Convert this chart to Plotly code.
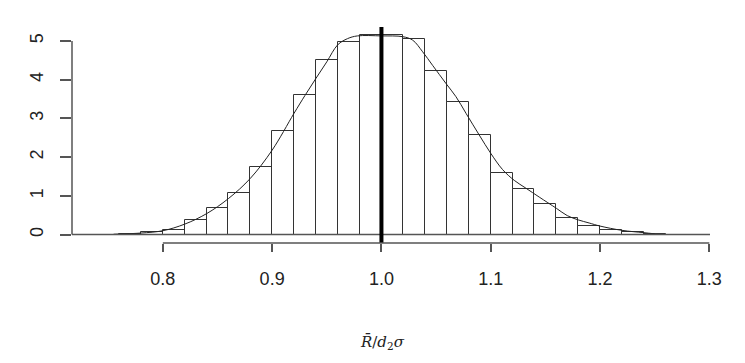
import plotly.graph_objects as go

# ---- data ----
bin_left = [0.76, 0.78, 0.80, 0.82, 0.84, 0.86, 0.88, 0.90, 0.92, 0.94, 0.96, 0.98,
            1.00, 1.02, 1.04, 1.06, 1.08, 1.10, 1.12, 1.14, 1.16, 1.18, 1.20, 1.22, 1.24]
bin_width = 0.02
density_hist = [0.02, 0.06, 0.13, 0.37, 0.69, 1.08, 1.74, 2.67, 3.60, 4.52, 4.97, 5.15,
                5.15, 5.06, 4.23, 3.43, 2.58, 1.60, 1.17, 0.80, 0.43, 0.23, 0.13, 0.07, 0.01]

curve_x = [0.755, 0.78, 0.80, 0.82, 0.84, 0.86, 0.88, 0.90, 0.92, 0.93, 0.940, 0.950,
           0.960, 0.969, 0.978, 1.000, 1.0195, 1.0286, 1.0377, 1.0468, 1.0591, 1.0682,
           1.0774, 1.0895, 1.1002, 1.1108, 1.1215, 1.1321, 1.1443, 1.16, 1.17, 1.18,
           1.19, 1.20, 1.22, 1.24, 1.25]
curve_y = [0.01, 0.04, 0.10, 0.27, 0.54, 0.93, 1.45, 2.18, 3.13, 3.59, 4.03, 4.46,
           4.90, 5.06, 5.13, 5.13, 5.11, 5.02, 4.72, 4.37, 3.90, 3.56,
           3.13, 2.57, 2.09, 1.68, 1.40, 1.20, 0.97, 0.68, 0.49, 0.38,
           0.30, 0.22, 0.11, 0.05, 0.02]

ref_value = 1.0
x_ticks = [0.8, 0.9, 1.0, 1.1, 1.2, 1.3]
x_tick_labels = ["0.8", "0.9", "1.0", "1.1", "1.2", "1.3"]
y_ticks = [0, 1, 2, 3, 4, 5]
y_tick_labels = ["0", "1", "2", "3", "4", "5"]
x_title = "<i>R\u0304</i>/<i>d</i><sub>2</sub><i>\u03c3</i>"

axis_col = "#555555"
font_main = "Liberation Sans, Arial, sans-serif"

centers = [b + bin_width / 2 for b in bin_left]

fig = go.Figure()
fig.add_trace(go.Bar(
    x=centers, y=density_hist, width=[bin_width] * len(centers),
    marker=dict(color="white", line=dict(color="#333333", width=1)),
    hoverinfo="skip", showlegend=False,
))
fig.add_trace(go.Scatter(
    x=curve_x, y=curve_y, mode="lines", line=dict(color="#222222", width=1, shape="spline"),
    hoverinfo="skip", showlegend=False,
))

# baseline y=0 across plot
fig.add_shape(type="line", xref="paper", yref="y", x0=0, x1=1, y0=0, y1=0,
              line=dict(color=axis_col, width=1.5), layer="above")
# reference vertical line
fig.add_shape(type="line", xref="x", yref="paper", x0=ref_value, x1=ref_value, y0=0, y1=1,
              line=dict(color="black", width=4), layer="above")
# x axis line (tick span)
fig.add_shape(type="line", xref="x", yref="paper", x0=min(x_ticks), x1=max(x_ticks), y0=0, y1=0,
              line=dict(color=axis_col, width=1.5), layer="above")
# y axis line (tick span)
fig.add_shape(type="line", xref="paper", yref="y", x0=0, x1=0, y0=min(y_ticks), y1=max(y_ticks),
              line=dict(color=axis_col, width=1.5), layer="above")

fig.add_annotation(text=x_title, xref="paper", yref="paper", x=0.487, y=-0.515,
                   showarrow=False, font=dict(family="DejaVu Serif, serif", size=15, color="#222"))

fig.update_layout(
    width=745, height=363,
    margin=dict(l=64, r=42.5, t=18.7, b=128.3),
    paper_bgcolor="white", plot_bgcolor="white",
    bargap=0,
    xaxis=dict(range=[0.7169, 1.3006], tickvals=x_ticks, ticktext=x_tick_labels,
               showgrid=False, zeroline=False, showline=False,
               ticks="outside", ticklen=8, tickwidth=1.5, tickcolor=axis_col,
               ticklabelstandoff=11,
               tickfont=dict(family=font_main, size=18, color="#222")),
    yaxis=dict(range=[-0.217, 5.36], tickvals=y_ticks, ticktext=y_tick_labels,
               showgrid=False, zeroline=False, showline=False,
               ticks="outside", ticklen=11, tickwidth=1.5, tickcolor=axis_col,
               tickangle=-90, ticklabelstandoff=10,
               tickfont=dict(family=font_main, size=18, color="#222")),
)

fig.write_html("out.html")
